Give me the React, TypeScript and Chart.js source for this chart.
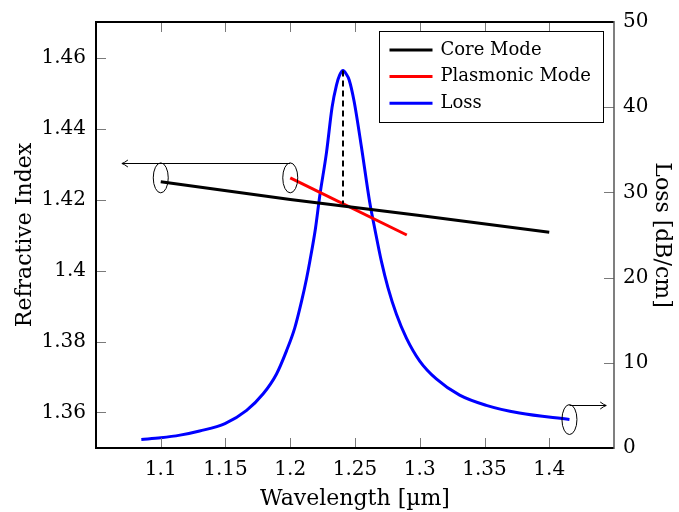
import React, { useEffect, useRef } from "react";
import { Chart, registerables } from "chart.js";

Chart.register(...registerables);

// ---------- data ----------
const xTicks = [1.1, 1.15, 1.2, 1.25, 1.3, 1.35, 1.4];
const indexTicks = [1.36, 1.38, 1.4, 1.42, 1.44, 1.46];
const lossTicks = [0, 10, 20, 30, 40, 50];

const coreWavelength = [1.1, 1.2, 1.3, 1.4];
const coreIndex = [1.425, 1.42, 1.4155, 1.4108];

const plasmonicWavelength = [1.2, 1.29];
const plasmonicIndex = [1.4261, 1.41];

const lossWavelength = [
  1.085, 1.1, 1.1149, 1.13, 1.1496, 1.1663, 1.1791, 1.1894, 1.1971, 1.2035,
  1.2087, 1.2126, 1.2151, 1.2195, 1.2228, 1.228, 1.2323, 1.2357, 1.2382,
  1.2408, 1.2432, 1.2455, 1.2493, 1.255, 1.2614, 1.2652, 1.2704, 1.2755,
  1.282, 1.2897, 1.3, 1.3128, 1.3308, 1.3514, 1.377, 1.4156,
];
const lossValues = [
  1.0, 1.2, 1.51, 2.0, 2.87, 4.42, 6.36, 8.69, 11.4, 14.1, 17.2, 19.9, 21.9,
  25.8, 29.6, 34.7, 40.0, 42.6, 43.8, 44.3, 43.9, 43.2, 40.7, 35.3, 28.8,
  25.8, 21.9, 18.8, 15.7, 12.9, 10.2, 8.1, 6.2, 5.0, 4.1, 3.34,
];

const phaseMatch = { wavelength: 1.2408, index: 1.4188, loss: 44.3 };
const arrowLeftTo = 1.07;
const arrowRightTo = 1.444;

const seriesLabels = ["Core Mode", "Plasmonic Mode", "Loss"];
const seriesColors = ["#000000", "#ff0000", "#0000ff"];

// ---------- style ----------
const FONT = '"DejaVu Serif", serif';
const fmt = (v: number) => String(parseFloat(Number(v).toFixed(2)));

const toPoints = (xs: number[], ys: number[]) =>
  xs.map((x, i) => ({ x, y: ys[i] }));

const frameAndTicks = {
  id: "frameAndTicks",
  afterDatasetsDraw(chart: any) {
    const { ctx, chartArea: a, scales } = chart;
    const { x, y, y1 } = scales;
    ctx.save();
    ctx.strokeStyle = "#7a7a7a";
    ctx.lineWidth = 1;
    const T = 10;
    ctx.beginPath();
    x.ticks.forEach((t: any) => {
      const px = Math.round(x.getPixelForValue(t.value)) + 0.5;
      ctx.moveTo(px, a.bottom);
      ctx.lineTo(px, a.bottom - T);
      ctx.moveTo(px, a.top);
      ctx.lineTo(px, a.top + T);
    });
    y.ticks.forEach((t: any) => {
      const py = Math.round(y.getPixelForValue(t.value)) + 0.5;
      ctx.moveTo(a.left, py);
      ctx.lineTo(a.left + T, py);
    });
    y1.ticks.forEach((t: any) => {
      const py = Math.round(y1.getPixelForValue(t.value)) + 0.5;
      ctx.moveTo(a.right, py);
      ctx.lineTo(a.right - T, py);
    });
    ctx.stroke();
    // frame
    ctx.strokeStyle = "#000";
    ctx.lineWidth = 2;
    ctx.beginPath();
    ctx.moveTo(a.right, a.top);
    ctx.lineTo(a.left, a.top);
    ctx.lineTo(a.left, a.bottom);
    ctx.lineTo(a.right, a.bottom);
    ctx.stroke();
    ctx.strokeStyle = "#555";
    ctx.lineWidth = 1.5;
    ctx.beginPath();
    ctx.moveTo(a.right, a.top - 1);
    ctx.lineTo(a.right, a.bottom + 1);
    ctx.stroke();
    ctx.restore();
  },
};

const annotations = {
  id: "annotations",
  afterDatasetsDraw(chart: any) {
    const { ctx, scales } = chart;
    const { x, y, y1 } = scales;
    ctx.save();
    ctx.strokeStyle = "#000";
    // dashed phase-matching marker
    ctx.lineWidth = 2;
    ctx.setLineDash([6, 4]);
    const dx = Math.round(x.getPixelForValue(phaseMatch.wavelength));
    ctx.beginPath();
    ctx.moveTo(dx, y1.getPixelForValue(phaseMatch.loss));
    ctx.lineTo(dx, y.getPixelForValue(phaseMatch.index));
    ctx.stroke();
    ctx.setLineDash([]);
    ctx.lineWidth = 1;
    const RX = 7.5;
    const RY = 15;
    const ellipse = (cx: number, cy: number) => {
      ctx.beginPath();
      ctx.ellipse(cx, cy, RX, RY, 0, 0, Math.PI * 2);
      ctx.stroke();
    };
    const arrowHead = (tx: number, ty: number, dir: number) => {
      ctx.beginPath();
      ctx.moveTo(tx - dir * 6, ty - 3.5);
      ctx.quadraticCurveTo(tx - dir * 2, ty - 0.5, tx, ty);
      ctx.quadraticCurveTo(tx - dir * 2, ty + 0.5, tx - dir * 6, ty + 3.5);
      ctx.stroke();
    };
    // left-axis cylinder (core + plasmonic)
    const cy = y.getPixelForValue(plasmonicIndex[0]);
    const e1x = x.getPixelForValue(coreWavelength[0]);
    const e2x = x.getPixelForValue(plasmonicWavelength[0]);
    ellipse(e1x, cy);
    ellipse(e2x, cy);
    const topY = Math.round(cy - RY) + 0.5;
    const lx = x.getPixelForValue(arrowLeftTo);
    ctx.beginPath();
    ctx.moveTo(e2x, topY);
    ctx.lineTo(lx, topY);
    ctx.stroke();
    arrowHead(lx, topY, -1);
    // right-axis marker (loss)
    const n = lossWavelength.length - 1;
    const e3x = x.getPixelForValue(lossWavelength[n]);
    const e3y = y1.getPixelForValue(lossValues[n]);
    ellipse(e3x, e3y);
    const top3 = Math.round(e3y - RY) + 0.5;
    const rx = x.getPixelForValue(arrowRightTo);
    ctx.beginPath();
    ctx.moveTo(e3x, top3);
    ctx.lineTo(rx, top3);
    ctx.stroke();
    arrowHead(rx, top3, 1);
    ctx.restore();
  },
};

const boxLegend = {
  id: "boxLegend",
  afterDraw(chart: any) {
    const { ctx, chartArea: a } = chart;
    const ds = chart.data.datasets;
    ctx.save();
    const bx = 379.5;
    const by = a.top + 9.5;
    const bw = 224;
    const bh = 91;
    ctx.fillStyle = "#fff";
    ctx.fillRect(bx, by, bw, bh);
    ctx.strokeStyle = "#000";
    ctx.lineWidth = 1;
    ctx.strokeRect(bx, by, bw, bh);
    ctx.font = `18px ${FONT}`;
    ctx.textBaseline = "middle";
    ctx.textAlign = "left";
    ds.forEach((d: any, i: number) => {
      const ry = by + 18.5 + i * 26.6;
      ctx.strokeStyle = d.borderColor;
      ctx.lineWidth = 3;
      ctx.beginPath();
      ctx.moveTo(bx + 10, ry);
      ctx.lineTo(bx + 53, ry);
      ctx.stroke();
      ctx.fillStyle = "#000";
      ctx.fillText(d.label, bx + 61, ry);
    });
    ctx.restore();
  },
};

export default function App() {
  const ref = useRef<HTMLCanvasElement>(null);
  useEffect(() => {
    if (!ref.current) return;
    const tickFont = { family: FONT, size: 20 };
    const titleFont = { family: FONT, size: 22 };
    const chart = new Chart(ref.current, {
      type: "line",
      data: {
        datasets: [
          {
            label: seriesLabels[0],
            data: toPoints(coreWavelength, coreIndex),
            borderColor: seriesColors[0],
            backgroundColor: seriesColors[0],
            borderWidth: 3,
            pointRadius: 0,
            yAxisID: "y",
          },
          {
            label: seriesLabels[1],
            data: toPoints(plasmonicWavelength, plasmonicIndex),
            borderColor: seriesColors[1],
            backgroundColor: seriesColors[1],
            borderWidth: 3,
            pointRadius: 0,
            yAxisID: "y",
          },
          {
            label: seriesLabels[2],
            data: toPoints(lossWavelength, lossValues),
            borderColor: seriesColors[2],
            backgroundColor: seriesColors[2],
            borderWidth: 3,
            pointRadius: 0,
            cubicInterpolationMode: "monotone",
            yAxisID: "y1",
          },
        ],
      },
      options: {
        responsive: false,
        animation: false,
        layout: { padding: { top: 18, left: 0, right: 0, bottom: 0 } },
        plugins: { legend: { display: false }, tooltip: { enabled: false } },
        scales: {
          x: {
            type: "linear",
            position: "bottom",
            min: 1.05,
            max: 1.45,
            afterBuildTicks: (s: any) => {
              s.ticks = xTicks.map((v) => ({ value: v }));
            },
            afterFit: (s: any) => {
              s.height = 64;
            },
            grid: { display: false, drawTicks: false },
            border: { display: false },
            ticks: {
              callback: (v: any) => fmt(v),
              font: tickFont,
              color: "#000",
              padding: 10,
              maxRotation: 0,
              autoSkip: false,
            },
            title: {
              display: true,
              text: "Wavelength [µm]",
              font: titleFont,
              color: "#000",
              padding: { top: 10, bottom: 0 },
            },
          },
          y: {
            type: "linear",
            position: "left",
            min: 1.35,
            max: 1.47,
            afterBuildTicks: (s: any) => {
              s.ticks = indexTicks.map((v) => ({ value: v }));
            },
            afterFit: (s: any) => {
              s.width = 96;
            },
            grid: { display: false, drawTicks: false },
            border: { display: false },
            ticks: {
              callback: (v: any) => fmt(v),
              font: tickFont,
              color: "#000",
              padding: 10,
            },
            title: {
              display: true,
              text: "Refractive Index",
              font: titleFont,
              color: "#000",
              padding: { top: 12, bottom: 0 },
            },
          },
          y1: {
            type: "linear",
            position: "right",
            min: 0,
            max: 50,
            afterBuildTicks: (s: any) => {
              s.ticks = lossTicks.map((v) => ({ value: v }));
            },
            afterFit: (s: any) => {
              s.width = 65;
            },
            grid: { display: false, drawTicks: false },
            border: { display: false },
            ticks: {
              callback: (v: any) => fmt(v),
              font: tickFont,
              color: "#000",
              padding: 9,
            },
            title: {
              display: true,
              text: "Loss [dB/cm]",
              font: titleFont,
              color: "#000",
              padding: { top: 4, bottom: 0 },
            },
          },
        },
      },
      plugins: [frameAndTicks, annotations, boxLegend],
    } as any);
    return () => chart.destroy();
  }, []);
  return (
    <div style={{ position: "absolute", left: 0, top: 0, width: 679, height: 512, background: "#fff" }}>
      <canvas ref={ref} width={679} height={512} style={{ display: "block" }} />
    </div>
  );
}
